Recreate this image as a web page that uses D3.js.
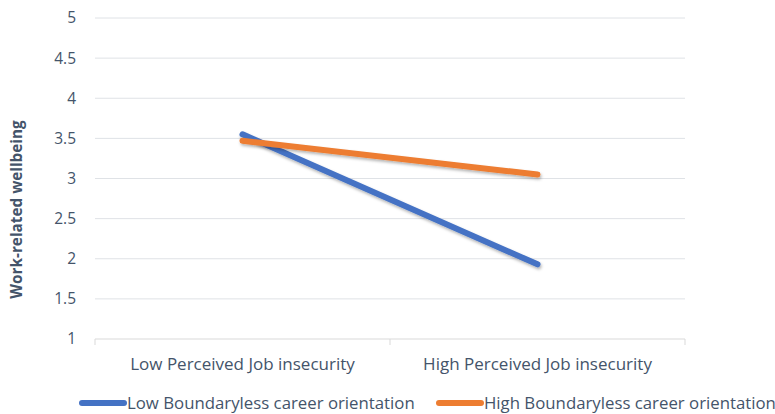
<!DOCTYPE html>
<html>
<head>
<meta charset="utf-8">
<script src="https://cdn.jsdelivr.net/npm/d3@7"></script>
<style>
  body { margin: 0; background: #fff; }
  text { font-family: "Open Sans", sans-serif; fill: #44546a; }
</style>
</head>
<body>
<div id="chart-area"></div>
<script>
// Data
var categories = ['Low Perceived Job insecurity', 'High Perceived Job insecurity'];
var seriesNames = ['Low Boundaryless career orientation', 'High Boundaryless career orientation'];
var lowBoundaryless = [3.55, 1.93];
var highBoundaryless = [3.47, 3.05];
var yTicks = [1, 1.5, 2, 2.5, 3, 3.5, 4, 4.5, 5];
var colors = ['#4472c4', '#ed7d31'];

var series = [
  { name: seriesNames[0], values: lowBoundaryless, color: colors[0] },
  { name: seriesNames[1], values: highBoundaryless, color: colors[1] }
];

var margin = { left: 95, right: 90, top: 18, bottom: 75 };
var width = 775 - margin.left - margin.right,
    height = 414 - margin.top - margin.bottom;

var svg = d3.select('#chart-area')
  .append('svg')
    .attr('width', 775)
    .attr('height', 414);

var defs = svg.append('defs');
var shadow = defs.append('filter')
  .attr('id', 'shadow')
  .attr('x', '-10%').attr('y', '-20%')
  .attr('width', '130%').attr('height', '160%');
shadow.append('feDropShadow')
  .attr('dx', 1).attr('dy', 2)
  .attr('stdDeviation', 1.5)
  .attr('flood-color', '#000')
  .attr('flood-opacity', 0.3);

var g = svg.append('g')
  .attr('transform', 'translate(' + margin.left + ',' + margin.top + ')');

// Scales
var x = d3.scaleBand()
  .domain(categories)
  .range([0, width]);

var y = d3.scaleLinear()
  .domain([1, 5])
  .range([height, 0]);

// Gridlines
g.append('g')
  .attr('class', 'grid')
  .selectAll('line')
  .data(yTicks.filter(function(d) { return d > 1; }))
  .enter().append('line')
    .attr('x1', 0)
    .attr('x2', width)
    .attr('y1', function(d) { return y(d); })
    .attr('y2', function(d) { return y(d); })
    .attr('stroke', '#dfe2e6')
    .attr('stroke-width', 1);

// X axis
var xAxisGroup = g.append('g')
  .attr('class', 'x-axis')
  .attr('transform', 'translate(0,' + height + ')');

xAxisGroup.append('line')
  .attr('x1', 0).attr('x2', width)
  .attr('stroke', '#d9d9d9');

var xBounds = [0].concat(categories.map(function(c) { return x(c) + x.bandwidth(); }));
xAxisGroup.selectAll('.tick-mark')
  .data(xBounds)
  .enter().append('line')
    .attr('class', 'tick-mark')
    .attr('x1', function(d) { return d; })
    .attr('x2', function(d) { return d; })
    .attr('y1', 0).attr('y2', 6)
    .attr('stroke', '#d9d9d9');

xAxisGroup.selectAll('.x-label')
  .data(categories)
  .enter().append('text')
    .attr('class', 'x-label')
    .attr('x', function(d) { return x(d) + x.bandwidth() / 2; })
    .attr('y', 31)
    .attr('text-anchor', 'middle')
    .attr('font-size', '17px')
    .text(function(d) { return d; });

// Y axis
var yAxisCall = d3.axisLeft(y)
  .tickValues(yTicks)
  .tickSize(0)
  .tickPadding(19)
  .tickFormat(function(d) { return d; });

var yAxisGroup = g.append('g')
  .attr('class', 'y-axis')
  .call(yAxisCall);
yAxisGroup.select('.domain').remove();
yAxisGroup.selectAll('text')
  .attr('font-size', '15.5px')
  .style('fill', '#44546a')
  .style('font-family', '"Open Sans", sans-serif');

// Y label
g.append('text')
  .attr('class', 'y-axis-label')
  .attr('x', -(height / 2) - 31)
  .attr('y', -73)
  .attr('font-size', '15.3px')
  .attr('font-weight', 'bold')
  .attr('text-anchor', 'middle')
  .attr('transform', 'rotate(-90)')
  .text('Work-related wellbeing');

// Lines
var line = d3.line()
  .x(function(d, i) { return x(categories[i]) + x.bandwidth() / 2; })
  .y(function(d) { return y(d); });

g.selectAll('.series')
  .data(series)
  .enter().append('path')
    .attr('class', 'series')
    .attr('d', function(d) { return line(d.values); })
    .attr('fill', 'none')
    .attr('stroke', function(d) { return d.color; })
    .attr('stroke-width', 6)
    .attr('stroke-linecap', 'round')
    .attr('filter', 'url(#shadow)');

// Legend
var legendX = [80, 437];
var legend = svg.append('g').attr('class', 'legend');
var items = legend.selectAll('.item')
  .data(series)
  .enter().append('g')
    .attr('class', 'item')
    .attr('transform', function(d, i) { return 'translate(' + legendX[i] + ',403)'; });

items.append('line')
  .attr('x1', 2).attr('x2', 44)
  .attr('stroke', function(d) { return d.color; })
  .attr('stroke-width', 6)
  .attr('stroke-linecap', 'round');

items.append('text')
  .attr('x', 47)
  .attr('y', 5.5)
  .attr('font-size', '16.8px')
  .text(function(d) { return d.name; });
</script>
</body>
</html>
